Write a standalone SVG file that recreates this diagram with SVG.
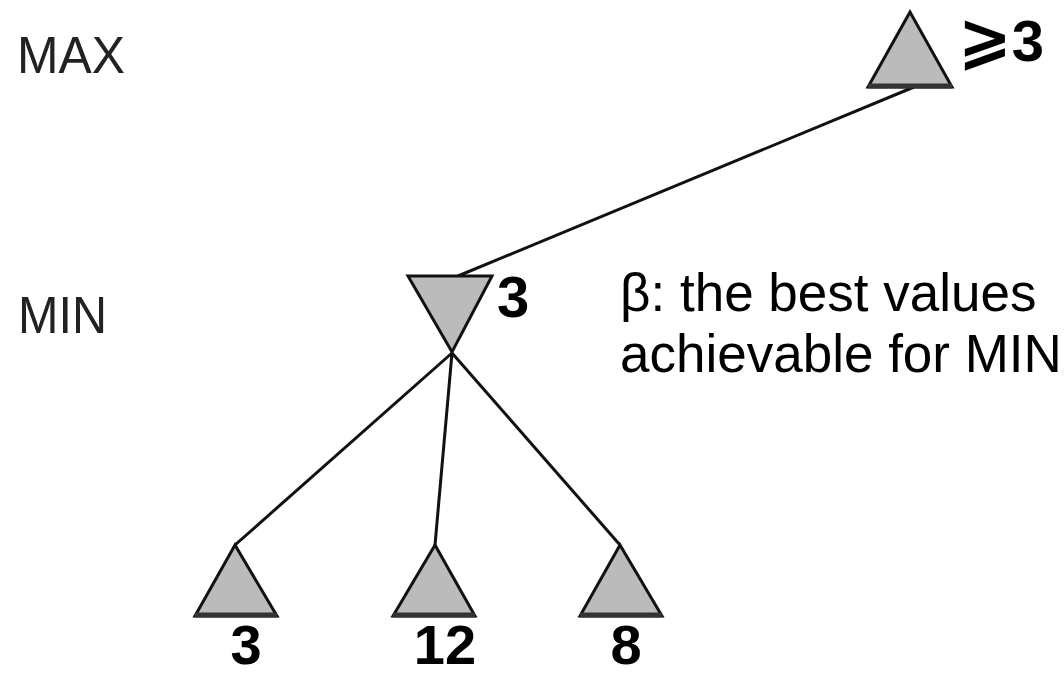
<svg xmlns="http://www.w3.org/2000/svg" width="1064" height="676" viewBox="0 0 1064 676">
<style>
.tri{fill:#bbbbbb;stroke:#111;stroke-width:3;stroke-linejoin:miter}
.base{stroke:#333;stroke-width:5}
.edge{stroke:#111;stroke-width:3;fill:none}
.lvl{font-family:"Liberation Sans",Arial,sans-serif;font-size:52px;fill:#222}
.val{font-family:"Liberation Sans",Arial,sans-serif;font-weight:bold;font-size:58px;fill:#000}
.leafval{font-size:56px}
.note{font-family:"Liberation Sans",Arial,sans-serif;font-size:53px;fill:#000}
</style>
<rect width="1064" height="676" fill="#fff"/>
<g id="connectors">
<line class="edge" x1="914" y1="87" x2="458" y2="276"/>
<line class="edge" x1="452" y1="353" x2="235" y2="545"/>
<line class="edge" x1="452" y1="353" x2="435" y2="545"/>
<line class="edge" x1="452" y1="353" x2="620" y2="545"/>
</g>
<g id="labels">
<text class="lvl" x="17" y="73" textLength="108" lengthAdjust="spacingAndGlyphs">MAX</text>
<text class="lvl" x="18" y="333" textLength="89" lengthAdjust="spacingAndGlyphs">MIN</text>
</g>
<g id="max-node">
<polygon class="tri" points="910,12 868,87 952,87"/>
<line class="base" x1="868" y1="86" x2="952" y2="86"/>
<text class="val" x="958" y="61"><tspan font-family="'DejaVu Sans',sans-serif" font-size="64">⩾</tspan>3</text>
</g>
<g id="min-node">
<polygon class="tri" points="408,276 492,276 452,352"/>
<text class="val" x="497" y="317">3</text>
</g>
<g id="leaf-1">
<polygon class="tri" points="235,545 195,616 277,616"/>
<line class="base" x1="195" y1="615" x2="277" y2="615"/>
<text class="val leafval" x="246" y="664" text-anchor="middle">3</text>
</g>
<g id="leaf-2">
<polygon class="tri" points="435,545 393,616 475,616"/>
<line class="base" x1="393" y1="615" x2="475" y2="615"/>
<text class="val leafval" x="445" y="664" text-anchor="middle">12</text>
</g>
<g id="leaf-3">
<polygon class="tri" points="620,545 580,616 662,616"/>
<line class="base" x1="580" y1="615" x2="662" y2="615"/>
<text class="val leafval" x="626" y="664" text-anchor="middle">8</text>
</g>
<g id="beta-note">
<text class="note" x="620" y="311">β: the best values</text>
<text class="note" x="620" y="372">achievable for MIN</text>
</g>
</svg>
